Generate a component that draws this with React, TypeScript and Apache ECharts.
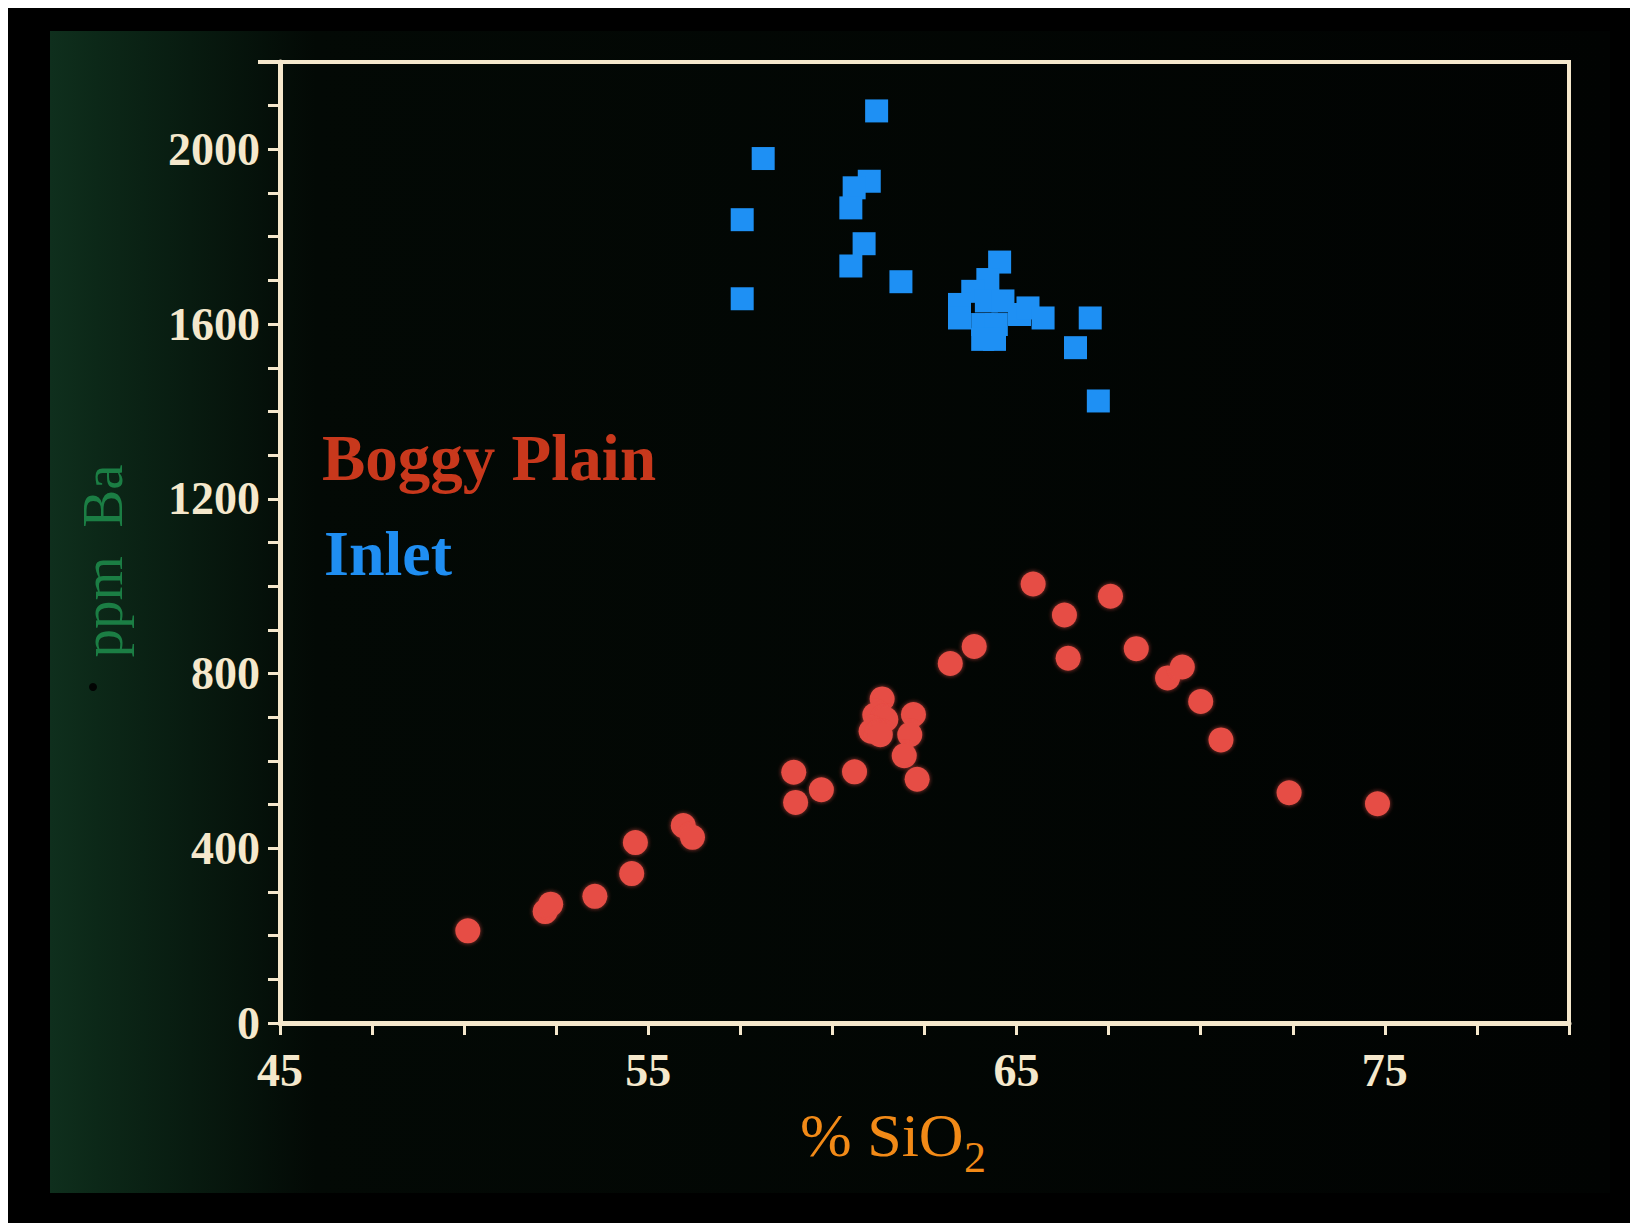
import React, { useEffect, useRef } from "react";
import * as echarts from "echarts";

const xLabelValues = [45, 55, 65, 75];
const yLabelValues = [0, 400, 800, 1200, 1600, 2000];

const boggyPlain: [number, number][] = [
  [50.1, 211],
  [52.2, 255],
  [52.35, 272],
  [53.55, 290],
  [54.55, 342],
  [54.65, 413],
  [55.95, 452],
  [56.2, 425],
  [58.95, 574],
  [59.0, 505],
  [59.7, 534],
  [60.6, 575],
  [61.35, 742],
  [61.15, 705],
  [61.45, 695],
  [61.05, 668],
  [61.3, 660],
  [62.2, 706],
  [62.1, 660],
  [61.95, 612],
  [62.3, 558],
  [63.2, 823],
  [63.85, 862],
  [65.45, 1005],
  [66.3, 934],
  [66.4, 835],
  [67.55, 977],
  [68.25, 857],
  [69.1, 790],
  [69.5, 815],
  [70.0, 736],
  [70.55, 648],
  [72.4, 527],
  [74.8, 502],
];

const inlet: [number, number][] = [
  [61.2, 2088],
  [58.12, 1979],
  [57.55, 1839],
  [57.55, 1658],
  [61.0, 1927],
  [60.59, 1912],
  [60.5, 1866],
  [60.86, 1784],
  [60.5, 1733],
  [61.86, 1697],
  [64.54, 1742],
  [64.22, 1702],
  [63.81, 1675],
  [63.45, 1645],
  [63.45, 1614],
  [64.18, 1653],
  [64.63, 1653],
  [64.08, 1599],
  [64.45, 1599],
  [64.08, 1565],
  [64.4, 1565],
  [65.08, 1622],
  [65.31, 1637],
  [65.72, 1614],
  [67.0, 1614],
  [66.6, 1546],
  [67.22, 1424],
];

const CREAM = "#f5e8cc";
const SERIF = "'Liberation Serif', 'DejaVu Serif', serif";

export default function App() {
  const ref = useRef<HTMLDivElement>(null);

  useEffect(() => {
    document.body.style.margin = "0";
    document.documentElement.style.overflow = "hidden";
    const chart = echarts.init(ref.current!, null, { renderer: "svg" });
    chart.setOption({
      animation: false,
      backgroundColor: "#000000",
      graphic: [
        {
          type: "rect",
          z: -10,
          silent: true,
          shape: { x: 42, y: 23, width: 1560, height: 1162 },
          style: {
            fill: {
              type: "linear",
              x: 0,
              y: 0,
              x2: 1,
              y2: 0,
              colorStops: [
                { offset: 0, color: "#0f2f1d" },
                { offset: 0.03, color: "#0c2818" },
                { offset: 0.09, color: "#081b10" },
                { offset: 0.17, color: "#030905" },
                { offset: 1, color: "#010302" },
              ],
            },
          },
        },
        {
          type: "line",
          silent: true,
          shape: { x1: 250, y1: 54, x2: 276, y2: 54 },
          style: { stroke: CREAM, lineWidth: 4 },
        },
        {
          type: "text",
          x: 314,
          y: 450,
          style: {
            text: "Boggy Plain",
            fontFamily: SERIF,
            fontWeight: "bold",
            fontSize: 65,
            fill: "#c8381c",
            align: "left",
            verticalAlign: "middle",
          },
        },
        {
          type: "text",
          x: 316,
          y: 545,
          style: {
            text: "Inlet",
            fontFamily: SERIF,
            fontWeight: "bold",
            fontSize: 64,
            fill: "#1f8ef2",
            align: "left",
            verticalAlign: "middle",
          },
        },
        {
          type: "text",
          x: 792,
          y: 1127,
          style: {
            text: "% SiO",
            fontFamily: SERIF,
            fontSize: 62,
            fill: "#f28a17",
            align: "left",
            verticalAlign: "middle",
          },
        },
        {
          type: "text",
          x: 956,
          y: 1149,
          style: {
            text: "2",
            fontFamily: SERIF,
            fontSize: 44,
            fill: "#f28a17",
            align: "left",
            verticalAlign: "middle",
          },
        },
        {
          type: "text",
          x: 94,
          y: 553,
          rotation: Math.PI / 2,
          style: {
            text: "ppm  Ba",
            fontFamily: SERIF,
            fontSize: 57,
            fill: "#1b7e44",
            align: "center",
            verticalAlign: "middle",
          },
        },
        {
          type: "circle",
          silent: true,
          shape: { cx: 85, cy: 679, r: 4 },
          style: { fill: "#020403" },
        },
      ],
      grid: {
        left: 272,
        top: 54,
        right: 61,
        bottom: 200,
        show: true,
        borderColor: CREAM,
        borderWidth: 4,
        backgroundColor: "transparent",
      },
      xAxis: {
        type: "value",
        min: 45,
        max: 80,
        interval: 2.5,
        axisLine: { show: true, onZero: false, lineStyle: { color: CREAM, width: 5 } },
        axisTick: { show: true, length: 12, lineStyle: { color: CREAM, width: 3 } },
        splitLine: { show: false },
        axisLabel: {
          margin: 24,
          color: CREAM,
          fontSize: 46,
          fontWeight: "bold",
          fontFamily: SERIF,
          formatter: (v: number) => (xLabelValues.includes(v) ? String(v) : ""),
        },
      },
      yAxis: {
        type: "value",
        min: 0,
        max: 2200,
        interval: 100,
        axisLine: { show: true, onZero: false, lineStyle: { color: CREAM, width: 5 } },
        axisTick: { show: true, length: 12, lineStyle: { color: CREAM, width: 3 } },
        splitLine: { show: false },
        axisLabel: {
          margin: 20,
          color: CREAM,
          fontSize: 46,
          fontWeight: "bold",
          fontFamily: SERIF,
          formatter: (v: number) => (yLabelValues.includes(v) ? String(v) : ""),
        },
      },
      series: [
        {
          name: "Boggy Plain",
          type: "scatter",
          symbol: "circle",
          symbolSize: 25,
          data: boggyPlain,
          itemStyle: {
            color: "#e64e45",
            opacity: 1,
            shadowBlur: 4,
            shadowColor: "rgba(230,78,69,0.7)",
          },
        },
        {
          name: "Inlet",
          type: "scatter",
          symbol: "rect",
          symbolSize: 23,
          data: inlet,
          itemStyle: { color: "#1e90f4", opacity: 1 },
        },
      ],
    });
    return () => chart.dispose();
  }, []);

  return (
    <div style={{ position: "relative", width: 1630, height: 1225, background: "#ffffff" }}>
      <div
        ref={ref}
        style={{ position: "absolute", left: 8, top: 8, width: 1622, height: 1215 }}
      />
    </div>
  );
}
